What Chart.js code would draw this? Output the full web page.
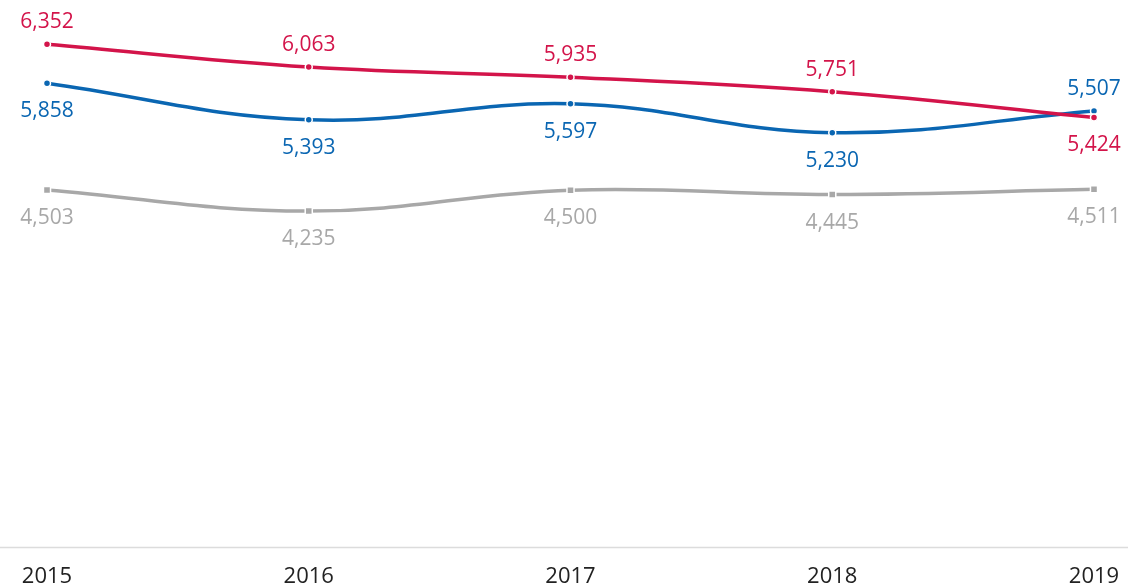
<!DOCTYPE html>
<html>
<head>
<meta charset="utf-8">
<script src="https://cdn.jsdelivr.net/npm/chart.js@4/dist/chart.umd.min.js"></script>
<style>
  html, body { margin: 0; padding: 0; background: #fff; }
  #chart { display: block; }
</style>
</head>
<body>
<canvas id="chart" width="1128" height="584"></canvas>
<script>
// data
const years = ["2015", "2016", "2017", "2018", "2019"];
const redValues = [6352, 6063, 5935, 5751, 5424];
const blueValues = [5858, 5393, 5597, 5230, 5507];
const grayValues = [4503, 4235, 4500, 4445, 4511];

// where each value label sits: -1 above the point, 1 below
const redLabelSide = [-1, -1, -1, -1, 1];
const blueLabelSide = [1, 1, 1, 1, -1];
const grayLabelSide = [1, 1, 1, 1, 1];

const RED = "#d3144a";
const BLUE = "#0a66b2";
const GRAY = "#a8a8a8";
const FONT = "'Open Sans', sans-serif";

// draws the value labels next to each point
const valueLabels = {
  id: "valueLabels",
  afterDatasetsDraw(chart) {
    const ctx = chart.ctx;
    ctx.save();
    ctx.font = "500 21px " + FONT;
    ctx.textAlign = "center";
    ctx.textBaseline = "middle";
    chart.data.datasets.forEach(function (ds, i) {
      const meta = chart.getDatasetMeta(i);
      meta.data.forEach(function (pt, j) {
        const side = ds.labelSide[j];
        const dy = side < 0 ? -22 : 28;
        ctx.fillStyle = ds.borderColor;
        ctx.fillText(ds.data[j].toLocaleString("en-US"), pt.x, pt.y + dy);
      });
    });
    ctx.restore();
  }
};

// the base line runs across the whole width
const baseLine = {
  id: "baseLine",
  beforeDatasetsDraw(chart) {
    const ctx = chart.ctx;
    const y = chart.chartArea.bottom;
    ctx.save();
    ctx.strokeStyle = "#dcdcdc";
    ctx.lineWidth = 1.5;
    ctx.beginPath();
    ctx.moveTo(0, y);
    ctx.lineTo(chart.width, y);
    ctx.stroke();
    ctx.restore();
  }
};

function lineSet(values, color, side, style, radius) {
  return {
    data: values,
    labelSide: side,
    borderColor: color,
    backgroundColor: color,
    pointBackgroundColor: color,
    pointBorderColor: "#fff",
    pointBorderWidth: 1.5,
    pointRadius: radius,
    pointStyle: style,
    borderWidth: 3.5,
    tension: 0.4,
    fill: false
  };
}

new Chart(document.getElementById("chart"), {
  type: "line",
  data: {
    labels: years,
    datasets: [
      lineSet(redValues, RED, redLabelSide, "circle", 3.5),
      lineSet(blueValues, BLUE, blueLabelSide, "circle", 3.5),
      lineSet(grayValues, GRAY, grayLabelSide, "rect", 5)
    ]
  },
  options: {
    responsive: false,
    animation: false,
    layout: { autoPadding: false, padding: { left: 47, right: 34, top: 0, bottom: -22 } },
    plugins: {
      legend: { display: false },
      tooltip: { enabled: false }
    },
    scales: {
      x: {
        offset: false,
        border: { display: false },
        grid: { display: false, drawTicks: false },
        ticks: {
          padding: 16,
          color: "#222",
          font: { family: FONT, size: 22 }
        },
        afterFit(scale) {
          scale.paddingLeft = 0;
          scale.paddingRight = 0;
        }
      },
      y: {
        display: false,
        min: -38,
        max: 6915
      }
    }
  },
  plugins: [baseLine, valueLabels]
});
</script>
</body>
</html>
